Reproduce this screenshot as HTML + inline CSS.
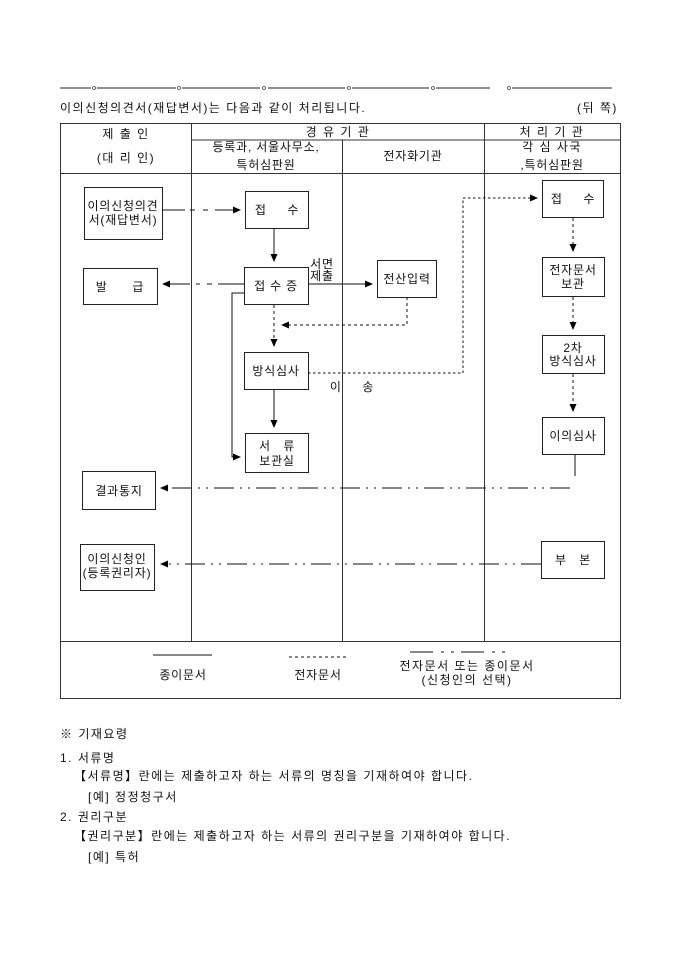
<!DOCTYPE html>
<html><head><meta charset="utf-8"><style>
body{margin:0;background:#fff;}
svg{display:block}
text{font-family:"Liberation Sans","Noto Sans CJK KR",sans-serif;font-size:12px;fill:#111;letter-spacing:0.8px}
.p{letter-spacing:1.5px}
</style></head><body>
<svg width="680" height="962" viewBox="0 0 680 962" xmlns="http://www.w3.org/2000/svg">
<defs><marker id="a" markerWidth="8" markerHeight="8" refX="7" refY="4" orient="auto" markerUnits="userSpaceOnUse"><path d="M0,0.5 L8,4 L0,7.5z" fill="#000"/></marker></defs>
<g stroke="#222" fill="none" stroke-width="1">
<path d="M60 88H91M97 88H176M182 88H260M268 88H345M352 88H429M436 88H490M512 88H612" stroke-width="1"/>
</g>
<g fill="none" stroke="#444" stroke-width="0.8"><circle cx="94" cy="88" r="1.5"/><circle cx="179" cy="88" r="1.5"/><circle cx="264" cy="88" r="1.5"/><circle cx="349" cy="88" r="1.5"/><circle cx="433" cy="88" r="1.5"/><circle cx="509" cy="88" r="1.5"/></g>
<text x="60" y="112" class="p">이의신청의견서(재답변서)는 다음과 같이 처리됩니다.</text>
<text x="577" y="112" class="p">(뒤 쪽)</text>
<g stroke="#333" fill="none" stroke-width="1">
<rect x="60.5" y="123.5" width="560" height="575"/>
<path d="M191.5 123V641M484.5 123V641M342.5 140V641M191 140H621M60 173.5H621M60 641.5H621"/>
</g>
<g text-anchor="middle">
<text x="126" y="138" class="p">제 출 인</text>
<text x="126" y="162" class="p">(대 리 인)</text>
<text x="338" y="136" class="p">경 유 기 관</text>
<text x="552" y="136" class="p">처 리 기 관</text>
<text x="266" y="151">등록과, 서울사무소,</text>
<text x="266" y="169">특허심판원</text>
<text x="413" y="160">전자화기관</text>
<text x="552" y="151" class="p">각 심 사국</text>
<text x="552" y="169">,특허심판원</text>
</g>
<g stroke="#222" fill="#fff" stroke-width="1">
<rect x="84.5" y="187.5" width="78" height="52"/>
<rect x="245.5" y="191.5" width="63" height="37"/>
<rect x="83.5" y="268.5" width="74" height="36"/>
<rect x="244.5" y="267.5" width="64" height="37"/>
<rect x="377.5" y="260.5" width="59" height="37"/>
<rect x="244.5" y="352.5" width="64" height="37"/>
<rect x="245.5" y="433.5" width="63" height="39"/>
<rect x="82.5" y="471.5" width="73" height="38"/>
<rect x="80.5" y="544.5" width="74" height="46"/>
<rect x="541.5" y="541.5" width="63" height="37"/>
<rect x="542.5" y="180.5" width="61" height="37"/>
<rect x="542.5" y="257.5" width="62" height="39"/>
<rect x="542.5" y="335.5" width="62" height="38"/>
<rect x="542.5" y="417.5" width="62" height="37"/>
</g>
<g text-anchor="middle">
<text x="123" y="210">이의신청의견</text><text x="123" y="224">서(재답변서)</text>
<text x="277" y="214">접 &#160; &#160; 수</text>
<text x="120" y="291">발 &#160; &#160; &#160;급</text>
<text x="276" y="290">접 수 증</text>
<text x="407" y="283">전산입력</text>
<text x="276" y="375">방식심사</text>
<text x="277" y="450">서 &#160; 류</text><text x="277" y="465">보관실</text>
<text x="119" y="495">결과통지</text>
<text x="117" y="563">이의신청인</text><text x="117" y="577">(등록권리자)</text>
<text x="573" y="564">부 &#160; 본</text>
<text x="573" y="203">접 &#160; &#160; 수</text>
<text x="573" y="274">전자문서</text><text x="573" y="288">보관</text>
<text x="573" y="352">2차</text><text x="573" y="365">방식심사</text>
<text x="573" y="440">이의심사</text>
<text x="322" y="268">서면</text><text x="322" y="280">제출</text>
<text x="352" y="391">이 &#160; &#160; 송</text>
</g>
<g stroke="#111" fill="none" stroke-width="1">
<path d="M162 210H185M190 210H195M203 210H208M215 210H240" marker-end="url(#a)"/>
<path d="M274 229V261" marker-end="url(#a)"/>
<path d="M244 284H218M212 284H207M200 284H196M190 284H163" marker-end="url(#a)"/>
<path d="M308 284H372" marker-end="url(#a)"/>
<path d="M244 293H232V457H240" marker-end="url(#a)"/>
<path d="M274 305V346" stroke-dasharray="3,3" marker-end="url(#a)"/>
<path d="M407 297V325H282" stroke-dasharray="3,3" marker-end="url(#a)"/>
<path d="M274 390V427" marker-end="url(#a)"/>
<path d="M308 373H463V198H537" stroke-dasharray="2.5,2.5" marker-end="url(#a)"/>
<path d="M573 218V251" stroke-dasharray="3,3" marker-end="url(#a)"/>
<path d="M573 297V329" stroke-dasharray="3,3" marker-end="url(#a)"/>
<path d="M573 374V411" stroke-dasharray="3,3" marker-end="url(#a)"/>
<path d="M575 455V476"/>
<path d="M570 488H161" stroke-dasharray="20,6,2,6,2,6" marker-end="url(#a)"/>
<path d="M541 564H161" stroke-dasharray="20,6,2,6,2,6" marker-end="url(#a)"/>
<path d="M153 655H212"/>
<path d="M289 657H346" stroke-dasharray="3,3"/>
<path d="M410 652H433M441 652H444M451 652H454M461 652H484M492 652H495M502 652H505"/>
</g>
<g text-anchor="middle">
<text x="183" y="679">종이문서</text>
<text x="318" y="679">전자문서</text>
<text x="467" y="670" class="p">전자문서 또는 종이문서</text>
<text x="467" y="684" class="p">(신청인의 선택)</text>
</g>
<text x="60" y="738" class="p">※ 기재요령</text>
<text x="60" y="762" class="p">1. 서류명</text>
<text x="74" y="780" class="p">【서류명】란에는 제출하고자 하는 서류의 명칭을 기재하여야 합니다.</text>
<text x="88" y="801" class="p">[예] 정정청구서</text>
<text x="60" y="821" class="p">2. 권리구분</text>
<text x="74" y="840" class="p">【권리구분】란에는 제출하고자 하는 서류의 권리구분을 기재하여야 합니다.</text>
<text x="88" y="861" class="p">[예] 특허</text>
</svg>
</body></html>
